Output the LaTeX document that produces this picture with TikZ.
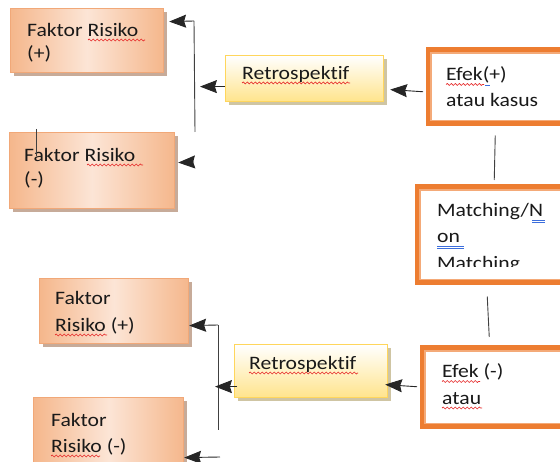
\documentclass[tikz,border=0pt]{standalone}
\usepackage{fontspec}
\setmainfont{Carlito}[FakeStretch=1.14, Ligatures=NoCommon]
\usetikzlibrary{arrows.meta,shadows,decorations.pathmorphing,calc}

\definecolor{peachEdge}{RGB}{241,168,120}
\definecolor{peachDark}{RGB}{245,183,140}
\definecolor{peachLight}{RGB}{252,229,214}
\definecolor{shadowBrown}{RGB}{185,150,128}
\definecolor{yellowEdge}{RGB}{255,214,92}
\definecolor{yellowFill}{RGB}{255,228,140}
\definecolor{shadowOlive}{RGB}{195,182,140}
\definecolor{orangeBand}{RGB}{237,125,49}
\definecolor{orangeThin}{RGB}{244,170,120}
\definecolor{inkText}{RGB}{25,25,25}
\definecolor{spellRed}{RGB}{230,40,40}
\definecolor{grammarBlue}{RGB}{60,110,220}

\tikzset{
  factorbox/.style={draw=peachEdge, line width=1.2pt, inner sep=0pt, anchor=north west,
    left color=peachDark, right color=peachDark, middle color=peachLight,
    general shadow={fill=shadowBrown, shadow xshift=3pt, shadow yshift=-3pt, opacity=0.8}},
  retrobox/.style={draw=yellowEdge, line width=1.2pt, inner sep=0pt, anchor=north west,
    top color=white, bottom color=yellowFill,
    general shadow={fill=shadowOlive, shadow xshift=3pt, shadow yshift=-3pt, opacity=0.8}},
  effectbox/.style={draw=orangeBand, line width=5.5pt, fill=white, inner sep=0pt, anchor=north west},
  innerline/.style={draw=orangeThin, line width=1.2pt},
  label/.style={anchor=base west, inner sep=0pt, text=inkText,
    font=\fontsize{19}{22}\selectfont},
  arrowline/.style={draw=black!85, line width=0.9pt,
    -{Stealth[length=13pt,width=10pt,inset=1.5pt,scale=1.3]}},
  plainline/.style={draw=black!75, line width=0.9pt},
  spell/.style={draw=spellRed, line width=0.7pt,
    decorate, decoration={snake, amplitude=1pt, segment length=4pt}},
  grammar/.style={draw=grammarBlue, line width=0.7pt}
}

\begin{document}
\begin{tikzpicture}[x=1pt,y=-1pt]
\useasboundingbox (0,0) rectangle (560,462);
\clip (0,0) rectangle (560,462);

% ---- upper group ----
\node[factorbox, minimum width=153pt, minimum height=64pt] (frA) at (10,8) {};
\node[factorbox, minimum width=165pt, minimum height=76pt] (frB) at (9,132) {};
\node[retrobox, minimum width=158pt, minimum height=46pt] (reA) at (225,55) {};
\node[effectbox, minimum width=150pt, minimum height=73pt] (efA) at (425.5,47.5) {};
\draw[innerline] ($(efA.north west)+(5.5,5.5)$) rectangle ($(efA.south east)+(-5.5,-5.5)$);

\node[label] (tA1) at (27,37) {Faktor Risiko};
\node[label] (tA2) at (27,60) {(+)};
\node[label] (tB1) at (24,162) {Faktor Risiko};
\node[label] (tB2) at (24,186) {(-)};
\node[label] (tR1) at (242,80) {Retrospektif};
\node[label] (tE1) at (446,81) {Efek(+)};
\node[label] (tE2) at (446,107) {atau kasus};

% ---- middle box ----
\node[effectbox, minimum width=160pt, minimum height=95pt] (mt) at (414.5,184.5) {};
\draw[innerline] ($(mt.north west)+(5.5,5.5)$) rectangle ($(mt.south east)+(-5.5,-5.5)$);
\node[label] (tM1) at (437,217) {Matching/N};
\node[label] (tM2) at (437,243) {on};
\begin{scope}
  \clip (425,190) rectangle (560,267);
  \node[label] (tM3) at (437,270) {Matching};
\end{scope}

% ---- lower group ----
\node[factorbox, minimum width=149pt, minimum height=65pt] (frC) at (39,278) {};
\node[factorbox, minimum width=150pt, minimum height=80pt] (frD) at (33,397) {};
\node[retrobox, minimum width=153pt, minimum height=53pt] (reB) at (234,344) {};
\node[effectbox, minimum width=155pt, minimum height=78pt] (efB) at (419.5,345.5) {};
\draw[innerline] ($(efB.north west)+(5.5,5.5)$) rectangle ($(efB.south east)+(-5.5,-5.5)$);

\node[label] (tC1) at (55,305) {Faktor};
\node[label] (tC2) at (55,332) {Risiko (+)};
\node[label] (tD1) at (51,427) {Faktor};
\node[label] (tD2) at (51,453) {Risiko (-)};
\node[label] (tR2) at (249,370) {Retrospektif};
\node[label] (tF1) at (442,378) {Efek (-)};
\node[label] (tF2) at (442,405) {atau};

% ---- spelling marks under words ----
\draw[spell] (88,40) -- (145,40);
\draw[spell] (87,165) -- (143,165);
\draw[spell] (242,83) -- (350,83);
\draw[spell] (446,84.5) -- (484,84.5);
\draw[grammar] (485,85) -- (490,85);
\draw[spell] (249,373) -- (358,373);
\draw[spell] (442,381.5) -- (480,381.5);
\draw[spell] (442,408) -- (482,408);
\draw[spell] (55,335) -- (107,335);
\draw[spell] (51,456) -- (100,456);
\draw[grammar] (532,220) -- (545,220);
\draw[grammar] (532,222) -- (545,222);
\draw[grammar] (437,246) -- (464,246);
\draw[grammar] (437,248) -- (464,248);

% ---- stray vertical mark ----
\coordinate (mk1) at (36,129);
\coordinate (mk2) at (36,156);
\draw[plainline] (mk1) -- (mk2);

% ---- upper connectors ----
\coordinate (upTop) at (194,21);
\coordinate (upBot) at (195,132);
\coordinate (upMid) at (194,162);
\draw[plainline] (upTop) -- (upBot);
\draw[arrowline] (upTop) -- ($(frA.east)+(5,-19)$);
\draw[arrowline] (upMid) -- ($(frB.east)+(3,-8)$);
\draw[arrowline] (reA.west) ++(0,8) -- ++(-25,0);
\draw[arrowline] ($(efA.west)+(-2.5,5)$) -- ($(reA.east)+(6,11)$);

% ---- links to the middle box ----
\draw[plainline] ($(efA.south)+(-8,9.5)$) -- ($(mt.north)+(-3,-4.5)$);
\draw[plainline] ($(mt.south)+(-10,11.5)$) -- ($(efB.north)+(-10.5,-8.5)$);

% ---- lower connectors ----
\coordinate (loTop) at (218,325);
\coordinate (loBot) at (218,430);
\coordinate (loLow) at (220,457);
\draw[plainline] (loTop) -- (loBot);
\draw[arrowline] (loTop) -- ($(frC.east)+(0,14.5)$);
\draw[arrowline] ($(reB.west)+(3,15.5)$) -- ++(-22,0);
\draw[arrowline] (loLow) -- ($(frD.east)+(0,20)$);
\draw[arrowline] ($(efB.west)+(-2.5,-0.5)$) -- ($(reB.east)+(-3,13.5)$);
\end{tikzpicture}
\end{document}
